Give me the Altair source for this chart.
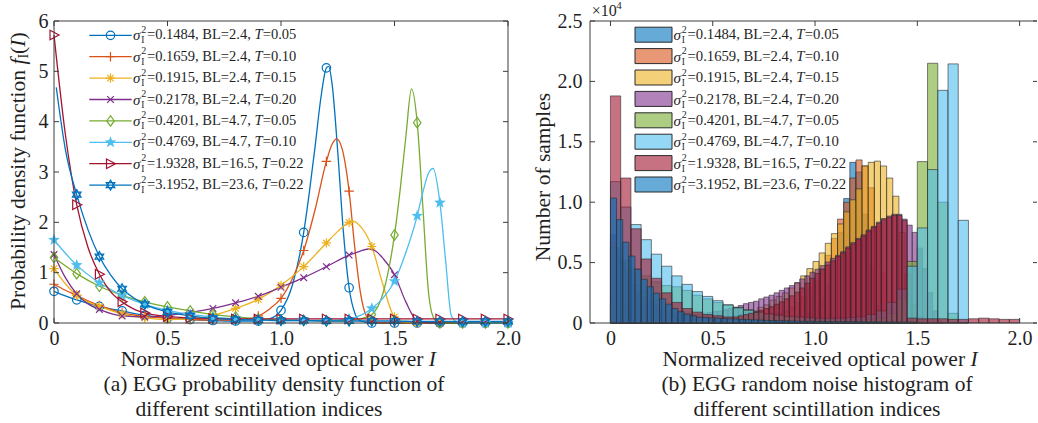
import math
import altair as alt
import pandas as pd

FONT = "Liberation Serif"
INK = "#1f1f1f"
FRAME = "#3c3c3c"
EDGE = "#2b2b2b"

# ---------------- legend texts and colours ----------------
SIG = ["0.1484", "0.1659", "0.1915", "0.2178", "0.4201", "0.4769", "1.9328", "3.1952"]
BL = ["2.4", "2.4", "2.4", "2.4", "4.7", "4.7", "16.5", "23.6"]
TV = ["0.05", "0.10", "0.15", "0.20", "0.05", "0.10", "0.22", "0.22"]
COLORS = ["#0072BD", "#D95319", "#EDB120", "#7E2F8E", "#77AC30", "#4DBEEE", "#A2142F", "#0072BD"]

# ---------------- (a) PDF curves ----------------
S1_I = [0, 0.05, 0.1, 0.15, 0.2, 0.25, 0.3, 0.35, 0.4, 0.5, 0.6, 0.7, 0.8, 0.9, 0.95, 1.0, 1.05, 1.1, 1.125, 1.15,
        1.175, 1.2, 1.21, 1.225, 1.25, 1.275, 1.3, 1.325, 1.35, 1.4, 1.5, 1.6, 1.7, 1.8, 1.9, 2.0]
S1_F = [0.63, 0.54, 0.46, 0.39, 0.33, 0.28, 0.24, 0.19, 0.15, 0.10, 0.07, 0.05, 0.04, 0.04, 0.08, 0.25, 0.75, 1.80,
        2.6, 3.5, 4.45, 5.07, 5.1, 4.75, 3.4, 1.8, 0.70, 0.2, 0.04, 0.0, 0.0, 0.0, 0.0, 0.0, 0.0, 0.0]
S2_I = [0, 0.05, 0.1, 0.15, 0.2, 0.3, 0.4, 0.5, 0.6, 0.7, 0.8, 0.85, 0.9, 0.95, 1.0, 1.05, 1.1, 1.15, 1.2, 1.225,
        1.245, 1.27, 1.3, 1.325, 1.35, 1.375, 1.4, 1.45, 1.5, 1.6, 1.7, 1.8, 1.9, 2.0]
S2_F = [0.77, 0.65, 0.55, 0.44, 0.35, 0.20, 0.13, 0.09, 0.07, 0.06, 0.06, 0.08, 0.14, 0.28, 0.49, 0.88, 1.44, 2.25,
        3.21, 3.55, 3.66, 3.45, 2.62, 1.5, 0.6, 0.15, 0.03, 0.0, 0.0, 0.0, 0.0, 0.0, 0.0, 0.0]
S3_I = [0, 0.05, 0.1, 0.15, 0.2, 0.3, 0.4, 0.5, 0.6, 0.7, 0.8, 0.9, 1.0, 1.1, 1.2, 1.25, 1.3, 1.32, 1.35, 1.4, 1.45,
        1.5, 1.55, 1.6, 1.7, 1.8, 1.9, 2.0]
S3_F = [1.08, 0.78, 0.55, 0.42, 0.33, 0.18, 0.10, 0.07, 0.08, 0.15, 0.29, 0.47, 0.75, 1.12, 1.59, 1.82, 2.0, 2.02,
        1.92, 1.52, 0.75, 0.12, 0.01, 0.0, 0.0, 0.0, 0.0, 0.0]
S4_I = [0, 0.05, 0.1, 0.15, 0.2, 0.3, 0.4, 0.5, 0.6, 0.7, 0.8, 0.9, 1.0, 1.1, 1.2, 1.3, 1.35, 1.39, 1.42, 1.45, 1.5,
        1.55, 1.6, 1.65, 1.7, 1.8, 1.9, 2.0]
S4_F = [1.36, 0.9, 0.58, 0.38, 0.27, 0.14, 0.12, 0.15, 0.21, 0.29, 0.40, 0.53, 0.71, 0.90, 1.12, 1.35, 1.43, 1.47,
        1.42, 1.28, 0.96, 0.42, 0.04, 0.0, 0.0, 0.0, 0.0, 0.0]
S5_I = [0, 0.1, 0.2, 0.3, 0.4, 0.5, 0.6, 0.7, 0.8, 0.9, 1.0, 1.1, 1.2, 1.3, 1.35, 1.4, 1.45, 1.5, 1.525, 1.55, 1.575,
        1.6, 1.625, 1.65, 1.675, 1.7, 1.8, 1.9, 2.0]
S5_F = [1.30, 0.98, 0.73, 0.55, 0.42, 0.32, 0.24, 0.17, 0.12, 0.08, 0.06, 0.05, 0.04, 0.05, 0.08, 0.17, 0.6, 1.75,
        2.65, 3.7, 4.65, 3.98, 2.3, 0.6, 0.08, 0.0, 0.0, 0.0, 0.0]
S6_I = [0, 0.1, 0.2, 0.3, 0.4, 0.5, 0.6, 0.7, 0.8, 0.9, 1.0, 1.1, 1.2, 1.3, 1.35, 1.4, 1.45, 1.5, 1.55, 1.6, 1.625,
        1.65, 1.67, 1.7, 1.725, 1.75, 1.775, 1.8, 1.9, 2.0]
S6_F = [1.65, 1.15, 0.80, 0.55, 0.37, 0.25, 0.17, 0.12, 0.08, 0.06, 0.05, 0.05, 0.05, 0.08, 0.15, 0.29, 0.5, 0.83,
        1.4, 2.13, 2.6, 2.98, 3.07, 2.39, 1.25, 0.15, 0.02, 0.0, 0.0, 0.0]
S7_I = [0, 0.05, 0.1, 0.15, 0.2, 0.25, 0.3, 0.35, 0.4, 0.5, 0.6, 0.7, 0.8, 0.9, 1.0, 1.1, 1.2, 1.3, 1.4, 1.5, 1.6,
        1.7, 1.8, 1.9, 2.0]
S7_F = [5.72, 3.75, 2.35, 1.5, 0.97, 0.62, 0.42, 0.28, 0.2, 0.13, 0.1, 0.09, 0.08, 0.08, 0.08, 0.08, 0.08, 0.08,
        0.08, 0.08, 0.08, 0.08, 0.08, 0.08, 0.08]
S8_I = [0.01, 0.05, 0.1, 0.15, 0.2, 0.25, 0.3, 0.35, 0.4, 0.5, 0.6, 0.7, 0.8, 0.9, 1.0, 1.1, 1.2, 1.3, 1.4, 1.5, 1.6,
        1.7, 1.8, 1.9, 2.0]
S8_F = [4.68, 3.45, 2.55, 1.85, 1.32, 0.95, 0.68, 0.5, 0.37, 0.22, 0.14, 0.09, 0.07, 0.06, 0.05, 0.05, 0.04, 0.04,
        0.04, 0.04, 0.03, 0.03, 0.03, 0.03, 0.03]
PDF_I = [S1_I, S2_I, S3_I, S4_I, S5_I, S6_I, S7_I, S8_I]
PDF_F = [S1_F, S2_F, S3_F, S4_F, S5_F, S6_F, S7_F, S8_F]

# ---------------- (b) histograms: (bin start, bin width, counts x1e4) ----------------
H1_N = [0.16, 0.14, 0.12, 0.10, 0.09, 0.08, 0.07, 0.06, 0.055, 0.05,
        0.045, 0.04, 0.035, 0.03, 0.03, 0.025, 0.025, 0.02, 0.02, 0.02,
        0.02, 0.02, 0.02, 0.02, 0.02, 0.02, 0.02, 0.02, 0.02, 0.025,
        0.03, 0.05, 0.08, 0.13, 0.2, 0.32, 0.5, 0.75, 1.03, 1.33, 1.25, 0.9, 0.45, 0.15, 0.03]
H2_N = [0.2, 0.16, 0.13, 0.1, 0.08, 0.06, 0.05, 0.04, 0.035, 0.03,
        0.025, 0.025, 0.025, 0.025, 0.025, 0.025, 0.025, 0.025, 0.025, 0.025,
        0.025, 0.03, 0.03, 0.035, 0.04, 0.05, 0.06, 0.08, 0.1, 0.13,
        0.17, 0.22, 0.28, 0.35, 0.45, 0.56, 0.7, 0.86, 1.0, 1.2, 1.35, 1.3, 1.12, 0.8, 0.42, 0.12, 0.02]
H3_N = [0.67, 0.54, 0.44, 0.36, 0.31, 0.26, 0.23, 0.19, 0.17, 0.14,
        0.11, 0.094, 0.08, 0.067, 0.06, 0.054, 0.047, 0.047, 0.047, 0.05,
        0.06, 0.074, 0.087, 0.10, 0.13, 0.15, 0.19, 0.22, 0.25, 0.29,
        0.33, 0.39, 0.45, 0.51, 0.58, 0.66, 0.74, 0.82, 0.92, 1.02,
        1.11, 1.30, 1.33, 1.34, 1.30, 1.2, 1.05, 0.75, 0.4, 0.15, 0.05, 0.01]
H4_N = [0.73, 0.61, 0.50, 0.40, 0.32, 0.26, 0.22, 0.18, 0.15, 0.13,
        0.11, 0.09, 0.082, 0.076, 0.073, 0.073, 0.073, 0.076, 0.082, 0.088,
        0.095, 0.10, 0.11, 0.12, 0.13, 0.145, 0.16, 0.17, 0.18, 0.20,
        0.215, 0.23, 0.25, 0.27, 0.29, 0.31, 0.335, 0.365, 0.39, 0.42,
        0.445, 0.475, 0.505, 0.535, 0.56, 0.59, 0.63, 0.665, 0.70, 0.73,
        0.77, 0.80, 0.835, 0.865, 0.885, 0.90, 0.90, 0.86, 0.81, 0.75,
        0.62, 0.45, 0.25, 0.1, 0.02]
H5_N = [0.62, 0.52, 0.45, 0.39, 0.34, 0.31, 0.3, 0.27, 0.23, 0.2,
        0.17, 0.15, 0.13, 0.11, 0.09, 0.075, 0.06, 0.05, 0.04, 0.035,
        0.03, 0.03, 0.025, 0.025, 0.025, 0.03, 0.04, 0.08, 0.2, 0.51,
        1.336, 2.15, 1.0, 0.08, 0.005]
H6_N = [1.17, 0.96, 0.815, 0.69, 0.57, 0.47, 0.39, 0.32, 0.26, 0.22,
        0.185, 0.15, 0.125, 0.105, 0.09, 0.075, 0.065, 0.055, 0.05, 0.045,
        0.04, 0.04, 0.04, 0.045, 0.05, 0.07, 0.1, 0.17, 0.28, 0.47,
        0.787, 1.27, 1.926, 2.145, 0.85]
H7_HEAD = [1.88, 1.20, 0.78, 0.53, 0.37, 0.25, 0.17, 0.12, 0.09, 0.07, 0.06, 0.05]
H7_HUMP = [0.05, 0.06, 0.07, 0.08, 0.09, 0.105, 0.12, 0.135, 0.155, 0.175,
           0.2, 0.225, 0.255, 0.29, 0.33, 0.37, 0.41, 0.445, 0.48, 0.515,
           0.55, 0.58, 0.62, 0.655, 0.69, 0.72, 0.76, 0.79, 0.825, 0.855,
           0.875, 0.89, 0.89, 0.85]
H7_TAIL = [0.04, 0.035, 0.035, 0.035, 0.03, 0.03, 0.035, 0.04, 0.035, 0.03, 0.03]
H8_N = [1.034, 0.856, 0.669, 0.554, 0.444, 0.362, 0.30, 0.247, 0.20, 0.156,
        0.12, 0.093, 0.074, 0.06, 0.047, 0.045, 0.042, 0.04, 0.037, 0.035,
        0.033, 0.03, 0.028, 0.026, 0.024, 0.022, 0.02, 0.019, 0.018, 0.017,
        0.016, 0.015, 0.015, 0.014, 0.014, 0.013, 0.013, 0.012, 0.012, 0.011,
        0.011, 0.01, 0.01, 0.01, 0.009, 0.009, 0.008, 0.008, 0.008, 0.007]
HIST = [
    [(0.0, 0.03, H1_N)],
    [(0.0, 0.03, H2_N)],
    [(0.0, 0.03, H3_N)],
    [(0.0, 0.025, H4_N)],
    [(0.0, 0.05, H5_N)],
    [(0.0, 0.05, H6_N)],
    [(0.0, 0.05, H7_HEAD), (0.6, 0.025, H7_HUMP), (1.45, 0.05, H7_TAIL)],
    [(0.0, 0.03, H8_N)],
]

# ---------------- layout (pixels) ----------------
LW, LH = 454, 302
RW, RH = 447, 302
GAP = 82
LX0, TOP = 54, 19
RX0 = LX0 + LW + GAP
L_DX, L_DY = [0, 2], [0, 6]
R_DX, R_DY = [-0.1, 2.085], [0, 2.5]


def lx(px): return L_DX[0] + (px - LX0) / LW * (L_DX[1] - L_DX[0])
def ly(py): return L_DY[0] + (TOP + LH - py) / LH * (L_DY[1] - L_DY[0])
def rx(px): return R_DX[0] + (px - RX0) / RW * (R_DX[1] - R_DX[0])
def ry(py): return R_DY[0] + (TOP + RH - py) / RH * (R_DY[1] - R_DY[0])


# Times metrics (Liberation Serif is metric compatible)
TW = {c: 500 for c in "0123456789"}
TW.update({'.': 250, ',': 250, ' ': 250, '=': 564, '(': 333, ')': 333})
TW.update(dict(a=444, b=500, c=444, d=500, e=444, f=333, g=500, h=500, i=278, j=278, k=500, l=278, m=778,
               n=500, o=500, p=500, q=500, r=333, s=389, t=278, u=500, v=500, w=722, x=500, y=500, z=444))
TW.update({'P': 556, 'N': 722, 'B': 667, 'L': 611, 'E': 611, 'G': 722, 'T': 611, 'I': 333})


def tw(s, fs):
    return sum(TW.get(ch, 500) for ch in s) * fs / 1000.0


LAB = "datum.value == 0 ? '0' : format(datum.value, '.1f')"
AX_LX = alt.Axis(values=[0, 0.5, 1, 1.5, 2], labelExpr=LAB, ticks=False, domain=False, grid=False,
                 labelFont=FONT, labelFontSize=20, labelColor=INK, labelPadding=5, labelFlush=False,
                 labelOverlap=False, title=None)
AX_LY = alt.Axis(values=[0, 1, 2, 3, 4, 5, 6], format="d", ticks=False, domain=False, grid=False,
                 labelFont=FONT, labelFontSize=20, labelColor=INK, labelPadding=6, labelFlush=False,
                 labelOverlap=False, title=None)
AX_RX = alt.Axis(values=[0, 0.5, 1, 1.5, 2], labelExpr=LAB, ticks=False, domain=False, grid=False,
                 labelFont=FONT, labelFontSize=20, labelColor=INK, labelPadding=5, labelFlush=False,
                 labelOverlap=False, title=None)
AX_RY = alt.Axis(values=[0, 0.5, 1, 1.5, 2, 2.5], labelExpr=LAB, ticks=False, domain=False, grid=False,
                 labelFont=FONT, labelFontSize=20, labelColor=INK, labelPadding=8, labelFlush=False,
                 labelOverlap=False, title=None)
SXL = alt.Scale(domain=L_DX, nice=False, zero=False)
SYL = alt.Scale(domain=L_DY, nice=False)
SXR = alt.Scale(domain=R_DX, nice=False, zero=False)
SYR = alt.Scale(domain=R_DY, nice=False)


def xl(f): return alt.X(f, type="quantitative", scale=SXL, axis=AX_LX)
def yl(f): return alt.Y(f, type="quantitative", scale=SYL, axis=AX_LY)
def xr(f): return alt.X(f, type="quantitative", scale=SXR, axis=AX_RX)
def yr(f): return alt.Y(f, type="quantitative", scale=SYR, axis=AX_RY)


def star_path(n, r_in):
    pts = []
    for k in range(2 * n):
        a = -math.pi / 2 + k * math.pi / n
        r = 1.0 if k % 2 == 0 else r_in
        pts.append(f"{r * math.cos(a):.3f},{r * math.sin(a):.3f}")
    return "M" + "L".join(pts) + "Z"


MARKERS = [
    dict(shape="circle", size=72, filled=False),
    dict(shape="M-1,0L1,0M0,-1L0,1", size=90, filled=False),
    dict(shape="M-1,0L1,0M0,-1L0,1M-0.7,-0.7L0.7,0.7M-0.7,0.7L0.7,-0.7", size=85, filled=False),
    dict(shape="M-0.7,-0.7L0.7,0.7M-0.7,0.7L0.7,-0.7", size=90, filled=False),
    dict(shape="M0,-1L0.72,0L0,1L-0.72,0Z", size=110, filled=False),
    dict(shape=star_path(5, 0.42), size=150, filled=True),
    dict(shape="M-0.8,-0.95L1,0L-0.8,0.95Z", size=100, filled=False),
    dict(shape="M0,-1L0.866,0.5L-0.866,0.5ZM0,1L0.866,-0.5L-0.866,-0.5Z", size=100, filled=False),
]

ONE = pd.DataFrame({"a": [0]})


def ptext(text, x, y, fs=21.5, **kw):
    return alt.Chart(ONE).mark_text(font=FONT, fontSize=fs, color=INK, baseline="middle", **kw).encode(
        x=alt.value(x), y=alt.value(y), text=alt.value(text))


def frule(**enc):
    return alt.Chart(ONE).mark_rule(color=FRAME, strokeWidth=1).encode(**enc)


# =============== left panel ===============
L = []
L.append(alt.Chart(ONE).mark_rule(strokeOpacity=0, opacity=0).encode(
    x=alt.value(-LX0), x2=alt.value(-LX0 + 1), y=alt.value(-TOP)))
for i in range(8):
    df = pd.DataFrame({"I": PDF_I[i], "f": PDF_F[i]})
    L.append(alt.Chart(df).mark_line(interpolate="monotone", color=COLORS[i], strokeWidth=1.3).encode(
        x=xl("I"), y=yl("f")))
for i in range(8):
    df = pd.DataFrame({"I": PDF_I[i], "f": PDF_F[i]})
    mk = df[[abs(v * 10 - round(v * 10)) < 1e-6 for v in df["I"]]]
    m = MARKERS[i]
    L.append(alt.Chart(mk).mark_point(shape=m["shape"], size=m["size"], filled=m["filled"], color=COLORS[i],
                                      strokeWidth=1.2, opacity=1).encode(x=xl("I"), y=yl("f")))

FSL = 14.5
ROW0, ROWD = 33.3, 21.4
for i in range(8):
    yc = ROW0 + ROWD * i
    d = pd.DataFrame({"x1": [lx(89.3)], "x2": [lx(131.7)], "xm": [lx(110.5)], "y": [ly(yc)]})
    m = MARKERS[i]
    L.append(alt.Chart(d).mark_rule(color=COLORS[i], strokeWidth=1.3).encode(x=xl("x1"), x2="x2", y=yl("y")))
    L.append(alt.Chart(d).mark_point(shape=m["shape"], size=m["size"], filled=m["filled"], color=COLORS[i],
                                     strokeWidth=1.2, opacity=1).encode(x=xl("xm"), y=yl("y")))


def legend_frame(conv_x, conv_y, x_sig, fs):
    rows = []
    for i in range(8):
        yc = ROW0 + ROWD * i
        r1 = "=" + SIG[i] + ", BL=" + BL[i] + ","
        xe = x_sig + 14.0
        xt = xe + tw(r1 + " ", fs)
        rows.append({"y": conv_y(yc), "xs": conv_x(x_sig), "xsub": conv_x(x_sig + 8.3), "xe": conv_x(xe),
                     "r1": r1, "xt": conv_x(xt), "r2": "=" + TV[i], "x2": conv_x(xt + 556 * fs / 1000 + 0.3)})
    return pd.DataFrame(rows)


def legend_texts(df, xenc, yenc, fs):
    base = dict(font=FONT, color=INK, baseline="middle", align="left")
    out = [
        alt.Chart(df).mark_text(fontSize=fs + 0.5, fontStyle="italic", **base).encode(
            x=xenc("xs"), y=yenc("y"), text=alt.value("σ")),
        alt.Chart(df).mark_text(fontSize=10, dy=-5.5, **base).encode(
            x=xenc("xsub"), y=yenc("y"), text=alt.value("2")),
        alt.Chart(df).mark_text(fontSize=9.5, dy=5, **base).encode(
            x=xenc("xsub"), y=yenc("y"), text=alt.value("I")),
        alt.Chart(df).mark_text(fontSize=fs, **base).encode(x=xenc("xe"), y=yenc("y"), text="r1:N"),
        alt.Chart(df).mark_text(fontSize=fs, fontStyle="italic", **base).encode(
            x=xenc("xt"), y=yenc("y"), text=alt.value("T")),
        alt.Chart(df).mark_text(fontSize=fs, **base).encode(x=xenc("x2"), y=yenc("y"), text="r2:N"),
    ]
    return out


L += legend_texts(legend_frame(lx, ly, 133.0, FSL), xl, yl, FSL)

# frame and inward ticks
L += [frule(x=alt.value(0), x2=alt.value(LW), y=alt.value(0)),
      frule(x=alt.value(0), x2=alt.value(LW), y=alt.value(LH)),
      frule(x=alt.value(0), y=alt.value(0), y2=alt.value(LH)),
      frule(x=alt.value(LW), y=alt.value(0), y2=alt.value(LH))]
TXL = pd.DataFrame({"v": [0, 0.5, 1, 1.5, 2]})
TYL = pd.DataFrame({"v": [0, 1, 2, 3, 4, 5, 6]})
L += [alt.Chart(TXL).mark_rule(color=FRAME).encode(x=xl("v"), y=alt.value(LH), y2=alt.value(LH - 5)),
      alt.Chart(TXL).mark_rule(color=FRAME).encode(x=xl("v"), y=alt.value(0), y2=alt.value(5)),
      alt.Chart(TYL).mark_rule(color=FRAME).encode(y=yl("v"), x=alt.value(0), x2=alt.value(5)),
      alt.Chart(TYL).mark_rule(color=FRAME).encode(y=yl("v"), x=alt.value(LW - 5), x2=alt.value(LW))]

# titles (left)
FT = 21.5
xt_reg = "Normalized received optical power"
anchor = 224.3 + (tw(xt_reg + " ", FT) + 7.2) / 2 - 7.2 - tw(" ", FT)
L += [ptext(xt_reg, anchor, 339, align="right"),
      ptext("I", anchor + tw(" ", FT), 339, align="left", fontStyle="italic"),
      ptext("(a) EGG probability density function of", 220, 364, align="center"),
      ptext("different scintillation indices", 205, 389, align="center")]
yt_reg = "Probability density function"
y0 = 289.0
y1 = y0 - tw(yt_reg, FT)
yf = y1 - tw(" ", FT)
ysub = yf - 278 * FT / 1000
ypar = ysub - 333 * 14 / 1000
L += [ptext(yt_reg, -35, y1, angle=270, align="right"),
      ptext("f", -35, yf, angle=270, align="left", fontStyle="italic"),
      ptext("I", -30.5, ysub, fs=14, angle=270, align="left"),
      ptext("(", -35, ypar, angle=270, align="left"),
      ptext("I", -35, ypar - 333 * FT / 1000, angle=270, align="left", fontStyle="italic"),
      ptext(")", -35, ypar - 2 * 333 * FT / 1000, angle=270, align="left")]

left = alt.layer(*L).properties(width=LW, height=LH)

# =============== right panel ===============
R = []
for i in range(8):
    rows = []
    for (s, w, counts) in HIST[i]:
        for k, n in enumerate(counts):
            rows.append({"x0": s + k * w, "x1": s + (k + 1) * w, "n": n})
    R.append(alt.Chart(pd.DataFrame(rows)).mark_rect(fill=COLORS[i], fillOpacity=0.6, stroke=EDGE,
                                                     strokeOpacity=0.8, strokeWidth=0.75).encode(
        x=xr("x0"), x2="x1", y=yr("n"), y2=alt.value(RH)))

for i in range(8):
    yc = ROW0 - 0.6 + ROWD * i
    d = pd.DataFrame({"x1": [rx(635)], "x2": [rx(672)], "y1": [ry(yc - 7.5)], "y2": [ry(yc + 7.5)]})
    R.append(alt.Chart(d).mark_rect(fill=COLORS[i], fillOpacity=0.6, stroke=EDGE, strokeWidth=1).encode(
        x=xr("x1"), x2="x2", y=yr("y1"), y2="y2"))
FSR = 14.7
R += legend_texts(legend_frame(rx, ry, 673.5, FSR), xr, yr, FSR)

R += [frule(x=alt.value(0), x2=alt.value(RW), y=alt.value(0)),
      frule(x=alt.value(0), x2=alt.value(RW), y=alt.value(RH)),
      frule(x=alt.value(0), y=alt.value(0), y2=alt.value(RH))]
TYR = pd.DataFrame({"v": [0, 0.5, 1, 1.5, 2, 2.5]})
R += [alt.Chart(TXL).mark_rule(color=FRAME).encode(x=xr("v"), y=alt.value(RH), y2=alt.value(RH - 5)),
      alt.Chart(TXL).mark_rule(color=FRAME).encode(x=xr("v"), y=alt.value(0), y2=alt.value(5)),
      alt.Chart(TYR).mark_rule(color=FRAME).encode(y=yr("v"), x=alt.value(0), x2=alt.value(5)),
      alt.Chart(TYR).mark_rule(color=FRAME).encode(y=yr("v"), x=alt.value(RW - 4), x2=alt.value(RW))]

anchor_r = 230.0 + (tw(xt_reg + " ", FT) + 7.2) / 2 - 7.2 - tw(" ", FT)
R += [ptext(xt_reg, anchor_r, 339, align="right"),
      ptext("I", anchor_r + tw(" ", FT), 339, align="left", fontStyle="italic"),
      ptext("(b) EGG random noise histogram of", 227, 364, align="center"),
      ptext("different scintillation indices", 227, 389, align="center"),
      ptext("Number of samples", -46, 156, angle=270, align="center"),
      ptext("\u00d710", 1.7, -10, fs=16, align="left"),
      ptext("4", 1.7 + tw("x10", 16) + 0.5, -15, fs=11, align="left")]

right = alt.layer(*R).properties(width=RW, height=RH)

chart = alt.hconcat(left, right, spacing=GAP, bounds="flush",
                    padding={"left": 0, "top": 0, "right": 0, "bottom": 0}).configure_view(strokeWidth=0)

chart.save("out.html", embed_options={"renderer": "svg", "actions": False})
